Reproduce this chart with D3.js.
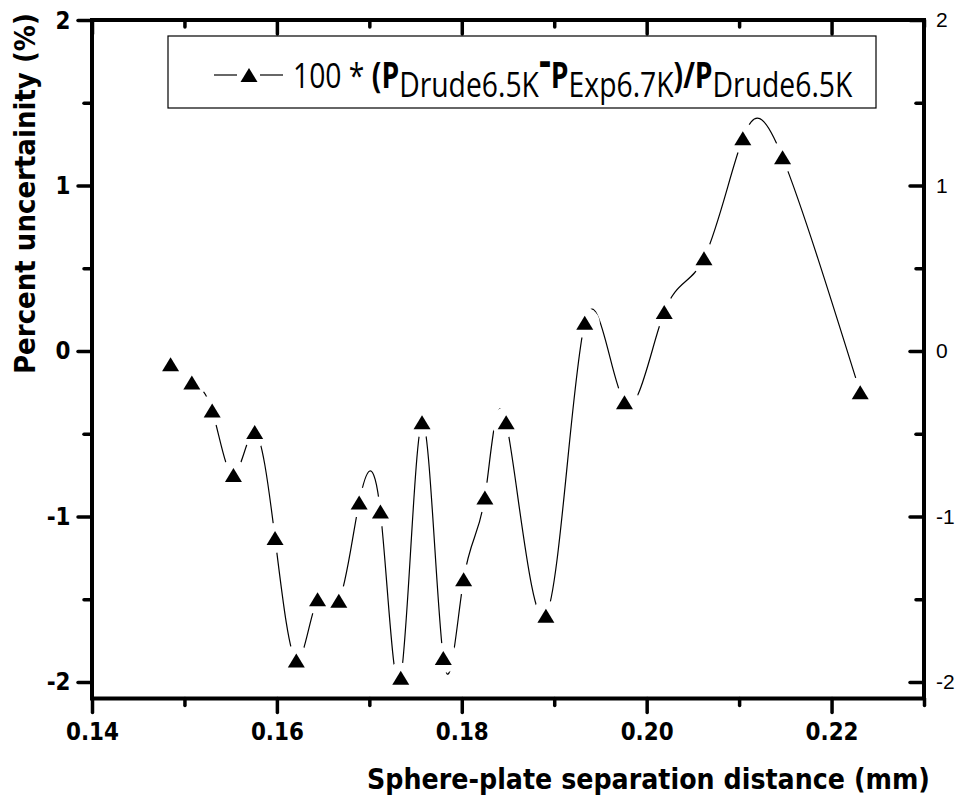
<!DOCTYPE html>
<html><head><meta charset="utf-8">
<script src="https://cdn.jsdelivr.net/npm/d3@7"></script>
<style>body{margin:0;background:#fff}</style>
</head><body>
<svg id="chart" width="966" height="803"></svg>
<script>
// ---- data ----
const separation = [0.1485,0.1508,0.1530,0.1553,0.1576,0.1598,0.1621,0.1644,0.1667,0.1689,0.1712,0.1734,0.1757,0.1780,0.1802,0.1825,0.1848,0.1891,0.1933,0.1976,0.2019,0.2062,0.2104,0.2147,0.2231];
const uncertainty = [-0.08,-0.19,-0.36,-0.75,-0.49,-1.13,-1.87,-1.50,-1.51,-0.915,-0.97,-1.975,-0.43,-1.855,-1.38,-0.885,-0.43,-1.60,0.17,-0.31,0.235,0.56,1.285,1.17,-0.25];
const xTicks = [0.14,0.16,0.18,0.20,0.22];
const xMinorTicks = [0.15,0.17,0.19,0.21,0.23];
const yTicks = [-2,-1,0,1,2];
const yMinorTicks = [-1.5,-0.5,0.5,1.5];
const xTitle = "Sphere-plate separation distance (mm)";
const yTitle = "Percent uncertainity (%)";

const W = 966, H = 803;
const svg = d3.select("#chart");
const x = d3.scaleLinear().domain([0.14, 0.23]).range([92, 924]);
const y = d3.scaleLinear().domain([-2.1, 2]).range([698.5, 20]);
const data = separation.map((d, i) => ({x: d, y: uncertainty[i]}));

const boldFont = "DejaVu Sans";
// horizontally condense axis labels about their anchor point
function condense(sel, f) {
  sel.each(function() {
    const t = d3.select(this);
    const ax = +t.attr("x") || 0;
    t.attr("transform", `translate(${ax * (1 - f)},0) scale(${f},1)`);
  });
}

// gap mask around markers
const defs = svg.append("defs");
const mask = defs.append("mask").attr("id", "gap").attr("maskUnits", "userSpaceOnUse")
  .attr("x", 0).attr("y", 0).attr("width", W).attr("height", H);
mask.append("rect").attr("width", W).attr("height", H).attr("fill", "#fff");
mask.selectAll("circle").data(data).join("circle")
  .attr("cx", d => x(d.x)).attr("cy", d => y(d.y)).attr("r", 15).attr("fill", "#000");

const line = d3.line().x(d => x(d.x)).y(d => y(d.y)).curve(d3.curveNatural);
svg.append("path").datum(data).attr("d", line).attr("fill", "none")
  .attr("stroke", "#000").attr("stroke-width", 1.2).attr("mask", "url(#gap)");

const tri = "M0,-7L8.5,7L-8.5,7Z";
svg.append("g").selectAll("path").data(data).join("path")
  .attr("d", tri).attr("transform", d => `translate(${x(d.x)},${y(d.y)})`).attr("fill", "#000");

// axes
function styleAxis(g) {
  g.select(".domain").remove();
  g.selectAll(".tick line").attr("stroke", "#000").attr("stroke-width", 3.5).attr("stroke-linecap", "round");
}
const intFmt = d => String(d);
const yb = y.range()[0], yt = y.range()[1];
const gb = svg.append("g").attr("transform", `translate(0,${yb})`)
  .call(d3.axisBottom(x).tickValues(xTicks).tickSize(14).tickPadding(10).tickFormat(d3.format(".2f")))
  .attr("font-family", boldFont).attr("font-size", 25).attr("font-weight", "bold");
styleAxis(gb);
gb.selectAll("text").attr("fill", "#000").call(condense, 0.86);
svg.append("g").attr("transform", `translate(0,${yb})`)
  .call(d3.axisBottom(x).tickValues(xMinorTicks).tickSize(7).tickFormat("")).call(styleAxis);

svg.append("g").attr("transform", `translate(0,${yt})`)
  .call(d3.axisTop(x).tickValues(xTicks).tickSize(-14).tickFormat("")).call(styleAxis);
svg.append("g").attr("transform", `translate(0,${yt})`)
  .call(d3.axisTop(x).tickValues(xMinorTicks).tickSize(-7).tickFormat("")).call(styleAxis);

const gl = svg.append("g").attr("transform", `translate(${x.range()[0]},0)`)
  .call(d3.axisLeft(y).tickValues(yTicks).tickSize(14).tickPadding(7.5).tickFormat(intFmt))
  .attr("font-family", boldFont).attr("font-size", 25).attr("font-weight", "bold");
styleAxis(gl);
gl.selectAll("text").attr("fill", "#000").call(condense, 0.86);
svg.append("g").attr("transform", `translate(${x.range()[0]},0)`)
  .call(d3.axisLeft(y).tickValues(yMinorTicks).tickSize(8).tickFormat("")).call(styleAxis);

const gr = svg.append("g").attr("transform", `translate(${x.range()[1]},0)`)
  .call(d3.axisRight(y).tickValues(yTicks).tickSize(-14).tickPadding(12).tickFormat(intFmt))
  .attr("font-family", "Liberation Sans, Arial").attr("font-size", 21);
styleAxis(gr);
gr.selectAll("text").attr("fill", "#000");
svg.append("g").attr("transform", `translate(${x.range()[1]},0)`)
  .call(d3.axisRight(y).tickValues(yMinorTicks).tickSize(-8).tickFormat("")).call(styleAxis);

// frame
svg.append("rect").attr("x", x.range()[0]).attr("y", yt).attr("width", x.range()[1] - x.range()[0])
  .attr("height", yb - yt).attr("fill", "none").attr("stroke", "#000").attr("stroke-width", 4);

// titles (fit to measured extents with a horizontal scale)
const xt = svg.append("text").attr("font-family", boldFont).attr("font-weight", "bold")
  .attr("font-size", 28).attr("fill", "#000").text(xTitle);
const xs = 563 / xt.node().getComputedTextLength();
xt.attr("transform", `translate(367,789) scale(${xs},1)`);
const ytl = svg.append("text").attr("font-family", boldFont).attr("font-weight", "bold")
  .attr("font-size", 29).attr("fill", "#000").text(yTitle);
const ys = 361 / ytl.node().getComputedTextLength();
ytl.attr("transform", `translate(35,374) rotate(-90) scale(${ys},1)`);

// legend
const lg = svg.append("g");
lg.append("rect").attr("x", 168).attr("y", 36).attr("width", 708).attr("height", 72)
  .attr("fill", "#fff").attr("stroke", "#000").attr("stroke-width", 1.2);
lg.append("line").attr("x1", 214).attr("x2", 237).attr("y1", 75).attr("y2", 75).attr("stroke", "#000").attr("stroke-width", 1.2);
lg.append("line").attr("x1", 260).attr("x2", 283).attr("y1", 75).attr("y2", 75).attr("stroke", "#000").attr("stroke-width", 1.2);
lg.append("path").attr("d", tri).attr("transform", "translate(249,75)").attr("fill", "#000");
const lt = lg.append("text").attr("x", 0).attr("y", 88).attr("font-family", "Open Sans").attr("font-size", 35).attr("fill", "#000");
lt.append("tspan").text("100 * ");
lt.append("tspan").attr("font-weight", "bold").text("(P");
lt.append("tspan").attr("dy", 9).text("Drude6.5K");
lt.append("tspan").attr("dy", -20).attr("font-weight", "bold").attr("font-size", 46).text("-");
lt.append("tspan").attr("dy", 11).attr("font-weight", "bold").text("P");
lt.append("tspan").attr("dy", 9).text("Exp6.7K");
lt.append("tspan").attr("dy", -9).attr("font-weight", "bold").text(")/P");
lt.append("tspan").attr("dy", 9).text("Drude6.5K");
const bb = lt.node().getBBox();
const s = 560 / bb.width;
lt.attr("transform", `translate(${293 - bb.x * s},0) scale(${s},1)`);
</script>
</body></html>
